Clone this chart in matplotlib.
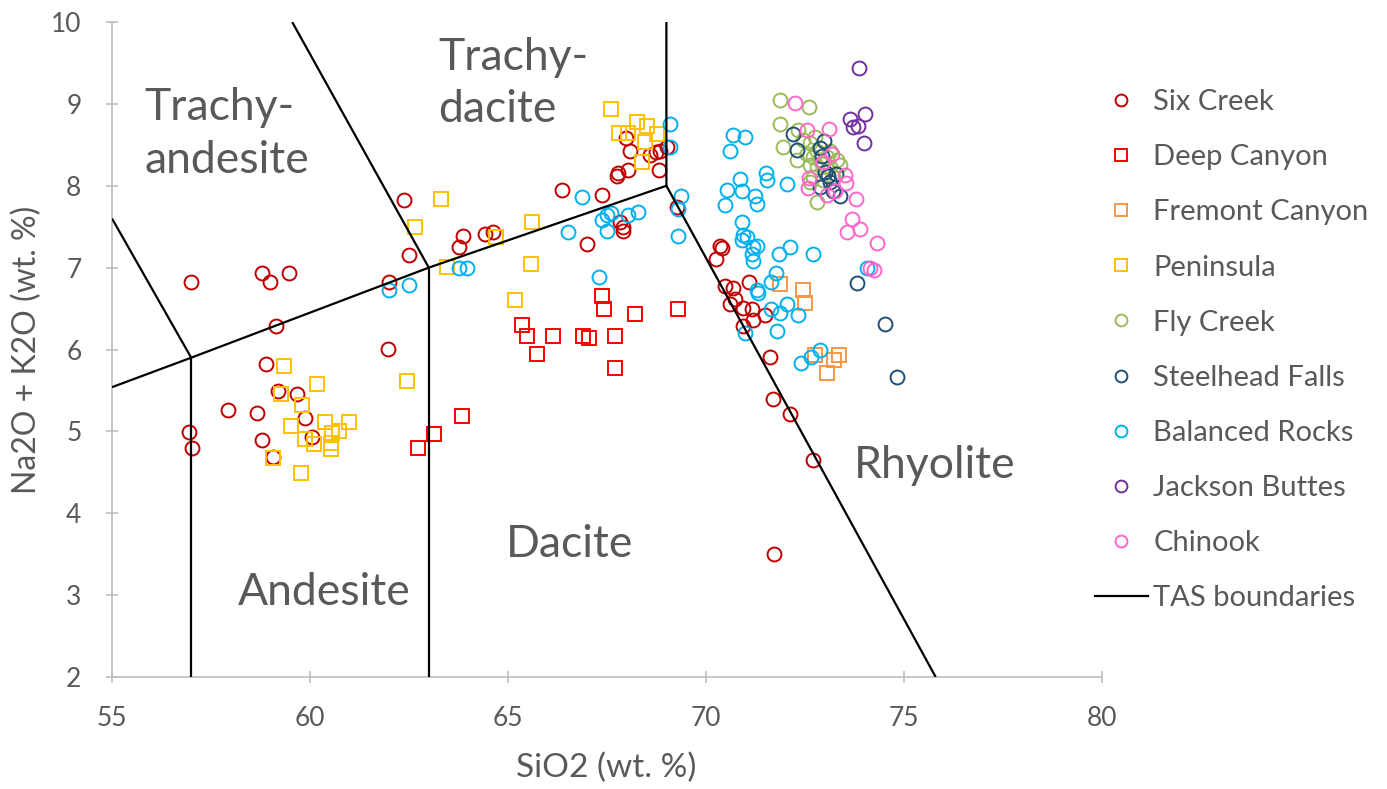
import matplotlib
matplotlib.use("Agg")
import matplotlib.pyplot as plt
from matplotlib.lines import Line2D

plt.rcParams["font.family"] = ["Lato", "DejaVu Sans"]

# --- sample data, SiO2 (wt. %) vs Na2O + K2O (wt. %) ---
six_x = [56.99, 58.78, 58.99, 59.46, 61.99, 59.14, 61.98, 58.88, 59.20, 59.67,
         57.93, 58.66, 59.87, 56.95, 57.01, 58.80, 60.06, 59.07,
         62.37, 62.51, 63.86, 63.77, 64.43, 64.63, 66.37, 67.38, 66.99, 67.83,
         67.91, 67.91, 69.26,
         67.97, 68.08, 67.79, 67.74, 68.02, 68.59, 68.74, 68.84, 69.01, 68.82,
         70.35, 70.40, 70.25, 71.09, 70.48, 70.67, 70.61, 70.73, 70.94, 71.15,
         71.19, 71.49, 70.94, 71.62, 71.68, 72.12, 72.70, 71.72]
six_y = [6.83, 6.93, 6.83, 6.93, 6.82, 6.29, 6.01, 5.82, 5.49, 5.46,
         5.26, 5.23, 5.16, 4.99, 4.80, 4.89, 4.93, 4.69,
         7.82, 7.16, 7.39, 7.25, 7.41, 7.43, 7.95, 7.89, 7.29, 7.56,
         7.50, 7.45, 7.74,
         8.58, 8.43, 8.15, 8.12, 8.19, 8.37, 8.41, 8.43, 8.47, 8.19,
         7.27, 7.24, 7.11, 6.83, 6.77, 6.75, 6.56, 6.62, 6.51, 6.49,
         6.36, 6.42, 6.29, 5.91, 5.40, 5.21, 4.65, 3.50]

deep_x = [63.85, 63.13, 62.73, 65.36, 65.47, 65.72, 66.14, 66.90, 67.05, 67.71,
          67.71, 67.38, 67.42, 68.21, 69.30]
deep_y = [5.19, 4.97, 4.80, 6.30, 6.16, 5.94, 6.16, 6.16, 6.14, 6.16,
          5.77, 6.65, 6.49, 6.43, 6.49]

fremont_x = [71.86, 72.46, 72.50, 72.75, 73.22, 73.36, 73.06]
fremont_y = [6.80, 6.73, 6.57, 5.93, 5.87, 5.93, 5.71]

pen_x = [59.34, 60.18, 59.27, 59.80, 59.53, 60.37, 60.98, 59.88, 60.11, 60.55,
         60.72, 60.53, 60.53, 59.06, 59.78,
         63.32, 62.65, 63.45, 64.70, 65.61, 65.57, 65.18, 62.46,
         67.61, 68.25, 68.50, 67.80, 68.02, 68.75, 68.46, 68.39]
pen_y = [5.80, 5.58, 5.46, 5.32, 5.07, 5.11, 5.11, 4.91, 4.85, 4.98,
         5.00, 4.86, 4.79, 4.67, 4.49,
         7.84, 7.50, 7.01, 7.38, 7.56, 7.05, 6.60, 5.61,
         8.94, 8.78, 8.73, 8.64, 8.64, 8.63, 8.54, 8.29]

fly_x = [71.87, 72.60, 71.87, 71.95, 72.29, 72.33, 72.46, 72.63, 72.75, 72.80,
         72.54, 72.71, 72.88, 72.63, 72.80, 72.92, 73.05, 73.13, 73.30, 73.38,
         72.71, 72.96, 73.21, 72.63, 72.80, 73.13]
fly_y = [9.05, 8.96, 8.76, 8.47, 8.31, 8.68, 8.56, 8.52, 8.60, 8.43,
         8.39, 8.35, 8.31, 8.25, 8.23, 8.27, 8.35, 8.43, 8.31, 8.25,
         8.11, 8.07, 8.11, 8.05, 7.80, 8.23]

steel_x = [72.20, 72.31, 72.98, 72.89, 72.94, 73.01, 73.28, 72.88, 73.13, 73.21,
           73.38, 73.09, 73.81, 74.52, 74.82]
steel_y = [8.63, 8.44, 8.55, 8.46, 8.36, 8.17, 8.14, 7.99, 8.05, 7.93,
           7.87, 8.12, 6.81, 6.31, 5.66]

bal_x = [61.99, 62.51, 63.76, 63.97, 66.86, 66.51, 67.30, 67.37, 67.49, 67.59,
         67.49, 68.04, 68.28, 69.30, 69.09, 69.09, 69.38, 69.30,
         70.69, 70.98, 70.61, 71.52, 71.55, 70.86, 70.54, 70.92, 71.24, 71.28,
         70.48, 70.90, 70.94, 72.05,
         70.90, 71.03, 71.19, 71.28, 71.15, 71.19,
         71.85, 72.13, 72.71, 71.78, 71.63, 71.28, 71.32, 74.06,
         71.64, 71.87, 72.04, 72.33, 71.80, 70.98, 72.88, 72.64, 72.40]
bal_y = [6.73, 6.79, 6.99, 7.00, 7.86, 7.43, 6.89, 7.58, 7.64, 7.67,
         7.45, 7.64, 7.68, 7.39, 8.75, 8.47, 7.87, 7.72,
         8.62, 8.60, 8.42, 8.16, 8.07, 8.08, 7.95, 7.94, 7.87, 7.78,
         7.77, 7.56, 7.40, 8.02,
         7.34, 7.38, 7.25, 7.27, 7.17, 7.08,
         7.17, 7.25, 7.17, 6.93, 6.83, 6.73, 6.69, 6.99,
         6.50, 6.44, 6.56, 6.42, 6.23, 6.20, 5.99, 5.91, 5.84]

jack_x = [73.87, 74.02, 73.64, 73.72, 73.85, 74.00]
jack_y = [9.44, 8.88, 8.81, 8.72, 8.73, 8.52]

chin_x = [72.25, 72.54, 73.11, 73.17, 72.96, 72.61, 72.58, 73.05, 73.51, 73.54,
          73.26, 73.80, 73.68, 73.55, 73.90, 74.31, 74.14, 74.25]
chin_y = [9.01, 8.68, 8.69, 8.39, 8.29, 8.09, 7.97, 7.89, 8.13, 8.03,
          7.93, 7.84, 7.60, 7.44, 7.47, 7.30, 6.99, 6.97]

# TAS field boundaries (each segment is a polyline)
tas_segments = [
    ([55.0, 57.0, 63.0, 69.0, 69.0], [5.54, 5.9, 7.0, 8.0, 10.0]),
    ([57.0, 57.0], [2.0, 5.9]),
    ([63.0, 63.0], [2.0, 7.0]),
    ([69.0, 75.8], [8.0, 2.0]),
    ([55.0, 57.0], [7.6, 5.9]),
    ([59.55, 63.0], [10.0, 7.0]),
]

# field names: (text, x, baseline y, horizontal alignment)
field_labels = [
    ("Trachy-", 55.83, 8.80, "left"),
    ("andesite", 55.83, 8.15, "left"),
    ("Trachy-", 63.23, 9.41, "left"),
    ("dacite", 63.23, 8.78, "left"),
    ("Dacite", 66.55, 3.47, "center"),
    ("Andesite", 60.37, 2.88, "center"),
    ("Rhyolite", 75.78, 4.43, "center"),
]

series = [
    ("Six Creek", six_x, six_y, "o", "#C00000"),
    ("Deep Canyon", deep_x, deep_y, "s", "#FF0000"),
    ("Fremont Canyon", fremont_x, fremont_y, "s", "#F79646"),
    ("Peninsula", pen_x, pen_y, "s", "#FFC000"),
    ("Fly Creek", fly_x, fly_y, "o", "#9BBB59"),
    ("Steelhead Falls", steel_x, steel_y, "o", "#1F4E79"),
    ("Balanced Rocks", bal_x, bal_y, "o", "#00B0F0"),
    ("Jackson Buttes", jack_x, jack_y, "o", "#7030A0"),
    ("Chinook", chin_x, chin_y, "o", "#FF66CC"),
]

txt = "#595959"
axc = "#BFBFBF"

fig = plt.figure(figsize=(13.87, 7.89), dpi=100)
ax = fig.add_axes([112 / 1387, 1 - 677 / 789, 990 / 1387, 655 / 789])

handles = []
for name, xs, ys, mk, col in series:
    ms = 10 if mk == "o" else 9.5
    ax.plot(xs, ys, linestyle="none", marker=mk, mfc="none", mec=col,
            ms=ms, mew=1.4, zorder=3)
    handles.append(Line2D([], [], linestyle="none", marker=mk, mfc="none",
                          mec=col, ms=8.5, mew=1.4, label=name))

for sx, sy in tas_segments:
    ax.plot(sx, sy, color="black", lw=1.6, zorder=4, solid_capstyle="butt")
handles.append(Line2D([], [], color="black", lw=1.6, label="TAS boundaries"))

for s, lx, ly, ha in field_labels:
    ax.text(lx, ly, s, ha=ha, va="baseline", fontsize=32, color=txt, zorder=5)

ax.set_xlim(55, 80)
ax.set_ylim(2, 10)
ax.set_xticks(range(55, 81, 5))
ax.set_yticks(range(2, 11))
for s in ("top", "right"):
    ax.spines[s].set_visible(False)
for s in ("left", "bottom"):
    ax.spines[s].set_color(axc)
    ax.spines[s].set_linewidth(1.2)
ax.tick_params(direction="inout", length=8, width=1.2, color=axc,
               labelcolor=txt, labelsize=19)
ax.tick_params(axis="x", pad=17)
ax.tick_params(axis="y", pad=18)

fig.text(606 / 1387, 1 - 768 / 789, "SiO2 (wt. %)", fontsize=24, color=txt,
         ha="center", va="center")
fig.text(27 / 1387, 1 - 350 / 789, "Na2O + K2O (wt. %)", fontsize=23,
         color=txt, ha="center", va="center", rotation=90)

fig.legend(handles=handles, loc="upper left",
           bbox_to_anchor=(1095 / 1387, 1 - 89 / 789), frameon=False,
           fontsize=21, labelcolor=txt, handlelength=1.8,
           handletextpad=0.2, labelspacing=1.0, borderpad=0,
           borderaxespad=0)

fig.savefig("out.png", dpi=100)
